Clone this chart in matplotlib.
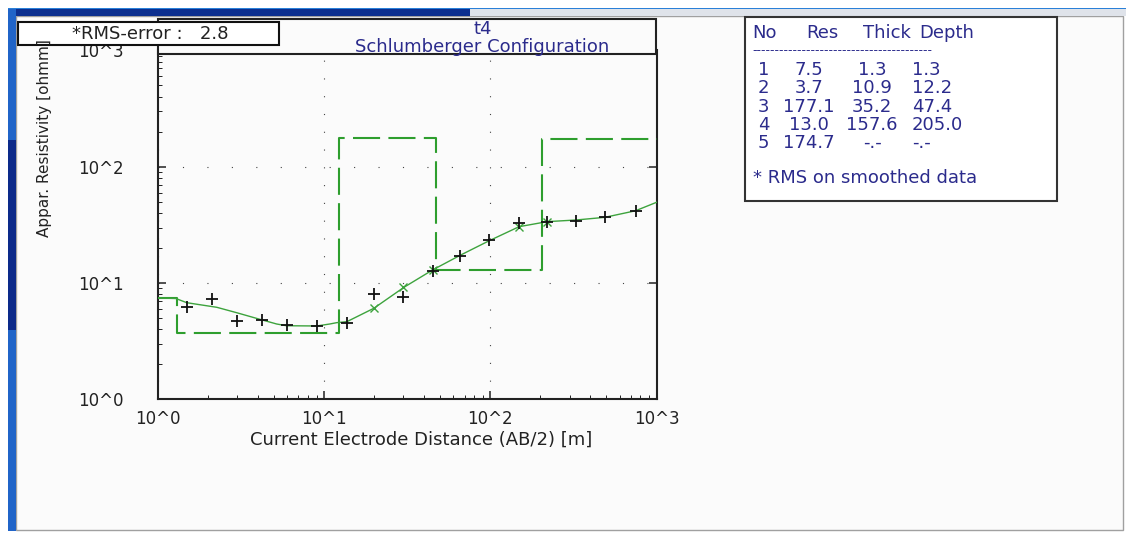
import matplotlib
matplotlib.use("Agg")
import matplotlib.pyplot as plt
from matplotlib.patches import Rectangle
from matplotlib.ticker import FixedLocator, FixedFormatter, LogLocator, NullFormatter

# field readings: AB/2 [m] and apparent resistivity [ohmm]
ab2 = [1.5, 2.1, 3.0, 4.2, 6.0, 9.0, 13.7, 20, 30, 45, 66, 98, 149, 220, 327, 490, 750]
rho_obs = [6.26, 7.28, 4.71, 4.81, 4.35, 4.29, 4.50, 8.0, 7.62, 12.8, 17.2, 23.4,
           33.0, 33.3, 34.1, 37.2, 41.9]

# smoothed readings (only where they sit away from the raw ones)
ab2_smooth = [20, 30, 45, 149, 220]
rho_smooth = [6.06, 9.18, 12.9, 30.5, 33.6]

# forward response of the layered model
ab2_fit = [1.0, 1.28, 1.49, 2.26, 2.98, 4.11, 5.18, 5.95, 9.01, 10.8, 11.9, 13.7,
           19.9, 30.2, 44.9, 66.3, 98.5, 149, 220, 327, 489, 748, 1000]
rho_fit = [7.43, 7.36, 6.77, 6.18, 5.55, 4.87, 4.44, 4.29, 4.27, 4.44, 4.56, 4.65,
           6.06, 9.18, 12.94, 17.4, 23.1, 30.5, 33.7, 34.8, 36.7, 41.8, 49.4]

# inverted layer model
layer_no = [1, 2, 3, 4, 5]
layer_res = [7.5, 3.7, 177.1, 13.0, 174.7]
layer_thick = [1.3, 10.9, 35.2, 157.6, None]
layer_depth = [1.3, 12.2, 47.4, 205.0, None]

rms_error = 2.8
station = "t4"
x_ticks = [1, 10, 100, 1000]
y_ticks = [1, 10, 100, 1000]
tick_text = ["10^0", "10^1", "10^2", "10^3"]

W, H = 1132, 537
NAVY = "#2b2b8c"
INK = "#222222"
GREEN_FIT = "#3da33d"
GREEN_MODEL = "#2e9e2e"
FS = 13


def fx(px):
    return px / W


def fy(py):
    return 1 - py / H


fig = plt.figure(figsize=(W / 100, H / 100), dpi=100)
fig.patch.set_facecolor("white")

# window frame
fig.add_artist(Rectangle((fx(16), fy(530)), fx(1123) - fx(16), fy(16) - fy(530),
                         facecolor="#fbfbfb", edgecolor="#a0a0a0", lw=1.0, zorder=-5))
fig.add_artist(Rectangle((fx(8), fy(9)), fx(1126) - fx(8), fy(8) - fy(9),
                         facecolor="#2a80d8", edgecolor="none", zorder=-4))
fig.add_artist(Rectangle((fx(8), fy(16)), fx(470) - fx(8), fy(9) - fy(16),
                         facecolor="#0c2f8f", edgecolor="none", zorder=-4))
fig.add_artist(Rectangle((fx(470), fy(16)), fx(1126) - fx(470), fy(9) - fy(16),
                         facecolor="#dfe3ea", edgecolor="none", zorder=-4))
fig.add_artist(Rectangle((fx(8), fy(531)), fx(16) - fx(8), fy(9) - fy(531),
                         facecolor="#2064c8", edgecolor="none", zorder=-4))
fig.add_artist(Rectangle((fx(8), fy(330)), fx(16) - fx(8), fy(140) - fy(330),
                         facecolor="#0c2a8a", edgecolor="none", zorder=-4))

ax = fig.add_axes([fx(158), fy(399.3), fx(656.5) - fx(158), fy(50.4) - fy(399.3)])
ax.set_facecolor("#fbfbfb")
ax.set_xscale("log")
ax.set_yscale("log")
ax.set_xlim(1, 1000)
ax.set_ylim(1, 1000)

# layered model as a step line
step_x = [1] + layer_depth[:-1] + [1000]
step_y = layer_res + [layer_res[-1]]
ax.plot(step_x, step_y, drawstyle="steps-post", color=GREEN_MODEL, lw=1.5,
        linestyle=(0, (13, 4)), zorder=3)
ax.plot(ab2_fit, rho_fit, color=GREEN_FIT, lw=1.0, zorder=4)
ax.plot(ab2_smooth, rho_smooth, linestyle="none", marker="x", ms=5.5, mew=1.0,
        color=GREEN_FIT, zorder=5)
ax.plot(ab2, rho_obs, linestyle="none", marker="+", ms=8, mew=1.3,
        color="#111111", zorder=6)

for axis in (ax.xaxis, ax.yaxis):
    axis.set_minor_locator(LogLocator(base=10, subs=range(2, 10)))
    axis.set_minor_formatter(NullFormatter())
ax.xaxis.set_major_locator(FixedLocator(x_ticks))
ax.xaxis.set_major_formatter(FixedFormatter(tick_text))
ax.yaxis.set_major_locator(FixedLocator(y_ticks))
ax.yaxis.set_major_formatter(FixedFormatter(tick_text))

ax.tick_params(which="both", direction="in", top=False, right=True, color=INK)
ax.tick_params(which="major", length=6, width=1.1, labelsize=12, labelcolor=INK)
ax.tick_params(which="minor", length=3, width=0.7, right=False)
ax.tick_params(axis="x", which="major", pad=8)
ax.tick_params(axis="y", which="major", pad=25)

ax.xaxis.grid(True, which="major", linestyle=(0, (1, 15)), lw=0.8, color="#444444")
ax.yaxis.grid(True, which="major", linestyle=(0, (1, 21)), lw=0.8, color="#444444")
ax.set_axisbelow(True)

ax.spines["top"].set_visible(False)
for side in ("left", "right", "bottom"):
    ax.spines[side].set_linewidth(1.5)
    ax.spines[side].set_color(INK)

fig.text(fx(421), fy(440), "Current Electrode Distance (AB/2) [m]", fontsize=FS,
         color=INK, ha="center", va="center")
fig.text(fx(45), fy(138), "Appar. Resistivity [ohmm]", fontsize=11, rotation=90,
         color=INK, ha="center", va="center")

# title box above the plot
fig.add_artist(Rectangle((fx(158), fy(54.3)), fx(656) - fx(158), fy(19.3) - fy(54.3),
                         facecolor="#fbfbfb", edgecolor=INK, lw=1.5, zorder=2))
fig.text(fx(482.5), fy(29.3), station, fontsize=FS, color=NAVY, ha="center", va="center")
fig.text(fx(482.5), fy(46.7), "Schlumberger Configuration", fontsize=FS, color=NAVY,
         ha="center", va="center")

# RMS box
fig.add_artist(Rectangle((fx(18.3), fy(45)), fx(279) - fx(18.3), fy(22.3) - fy(45),
                         facecolor="white", edgecolor="#111111", lw=1.5, zorder=3))
fig.text(fx(71.7), fy(33.7), f"*RMS-error :   {rms_error:.1f}", fontsize=FS,
         color=INK, ha="left", va="center", zorder=4)

# layer table
fig.add_artist(Rectangle((fx(745), fy(200.7)), fx(1057) - fx(745), fy(17.3) - fy(200.7),
                         facecolor="white", edgecolor="#333333", lw=1.5, zorder=2))
for x, head in zip([752.7, 806.7, 862.7, 919.3], ["No", "Res", "Thick", "Depth"]):
    fig.text(fx(x), fy(32.7), head, fontsize=FS, color=NAVY, ha="left", va="center")
fig.text(fx(752.7), fy(50.7), "-" * 40, fontsize=9, color=NAVY, ha="left", va="center")


def cell(v):
    return "-.-" if v is None else f"{v:.1f}"


for i, (n, r, t, d) in enumerate(zip(layer_no, layer_res, layer_thick, layer_depth)):
    y = 70 + i * 18.33
    fig.text(fx(758), fy(y), str(n), fontsize=FS, color=NAVY, ha="left", va="center")
    fig.text(fx(809), fy(y), cell(r), fontsize=FS, color=NAVY, ha="center", va="center")
    fig.text(fx(872), fy(y), cell(t), fontsize=FS, color=NAVY, ha="center", va="center")
    fig.text(fx(912), fy(y), cell(d), fontsize=FS, color=NAVY, ha="left", va="center")
fig.text(fx(752.7), fy(178.3), "* RMS on smoothed data", fontsize=FS, color=NAVY,
         ha="left", va="center")

fig.savefig("out.png", dpi=100, facecolor=fig.get_facecolor())
